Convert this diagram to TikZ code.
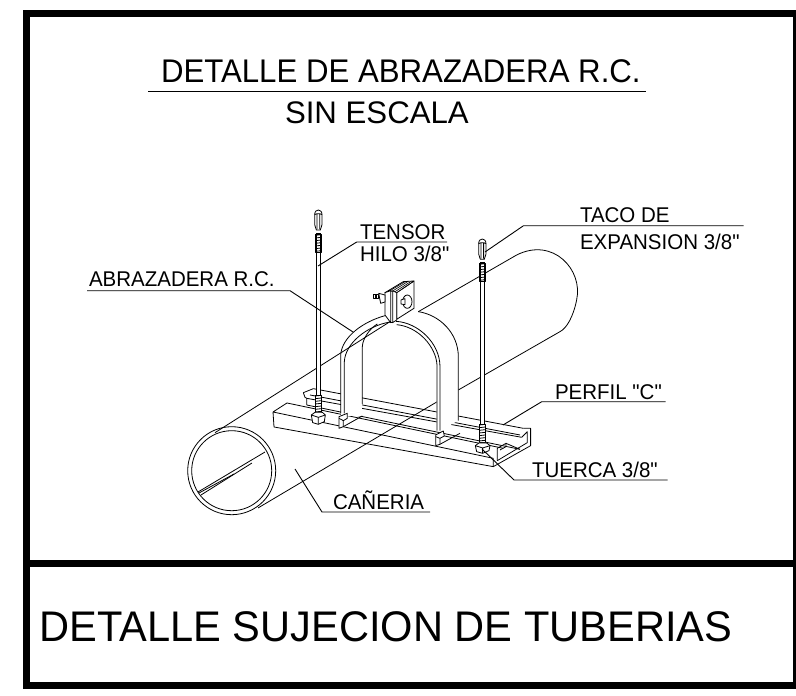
\documentclass[tikz,border=0pt]{standalone}
\usepackage{fontspec}
\setmainfont{Liberation Sans}[Ligatures=TeXOff]
\tikzset{
 txtbase/.style={anchor=base west,inner sep=0pt,outer sep=0pt},
 lbl/.style={txtbase,font=\fontsize{20.5}{20.5}\selectfont},
 ttl/.style={txtbase,font=\fontsize{31.2}{31.2}\selectfont},
 big/.style={txtbase,font=\fontsize{41.6}{42}\selectfont},
 leader/.style={line width=0.9pt},
 mech/.style={line width=0.8pt,line join=round},
 fine/.style={line width=0.6pt},
 frame/.style={line width=7pt,black},
}
\newcommand{\tall}[2]{\scalebox{1}[#1]{#2}}
\begin{document}
\begin{tikzpicture}[x=1pt,y=-1pt]
\useasboundingbox (0,0) rectangle (796,696);
\fill[white] (0,0) rectangle (796,696);
% frame
\draw[frame] (26.5,13.5) rectangle (796.5,685);
\draw[frame] (26.5,563.5) -- (796.5,563.5);
% titles
\node[ttl] (t1) at (161,82.5) {\tall{1.05}{DETALLE DE ABRAZADERA R.C.}};
\coordinate (r1a) at (148,91.7); \coordinate (r1b) at (646,91.7);
\draw[line width=1pt] (r1a) -- (r1b);
\node[ttl] (t2) at (285,123.3) {SIN ESCALA};
\node[big] (t3) at (39.5,641.5) {\tall{1.03}{DETALLE SUJECION DE TUBERIAS}};
% pipe circle
\coordinate (pc) at (231.7,470.7);
\draw[mech] (pc) circle (44);
\draw[mech] (pc) circle (40);
\draw[mech] (198,492) -- (265,452);
\draw[mech] (201,495) -- (252,463);
\draw[mech] (199,493) -- (234,474);
% mechanical part, coordinates in 3x crop units
\begin{scope}[shift={(290,200)},x=0.3333pt,y=-0.3333pt]
% base channel
\draw[mech] (-51,636) -- (610,775) (-48,681) -- (610,800) (-51,636) -- (-48,681)
  (-51,636) -- (-9,609) -- (640,745) (610,775) -- (610,800);
% rails
\draw[mech] (50,615) -- (690,748) (50,595) -- (50,615);
\draw[mech] (40,578) -- (70,566) -- (700,685) (40,578) -- (45,592) -- (50,595) -- (695,712);
\draw[mech] (212,612) -- (212,622) (60,585) -- (690,705);
% right end of channel
\draw[mech] (610,800) -- (722,737) -- (722,685) -- (700,685);
\draw[mech] (622,782) -- (712,728) -- (712,695) -- (695,712);
\draw[mech] (622,782) -- (622,745) -- (648,730) -- (648,740) -- (630,750);
\draw[mech] (690,748) -- (648,730);
% pipe outline
\draw[mech] (-225,698) -- (300,365) (385,335) -- (680,165)
  .. controls (790,110) and (880,210) .. (860,300)
  .. controls (850,350) and (830,385) .. (810,395) -- (505,570);
\draw[mech] (-96,924) -- (442,605);
% strap white masks
\fill[white] (152,470) rectangle (217,648);
\fill[white] (440,500) -- (505,470) -- (505,662) -- (450,692) -- (440,692) -- cycle;
% strap
\draw[mech] (152,640) -- (152,465) .. controls (156,410) and (220,365) .. (285,347);
\draw[mech] (163,640) -- (163,485) .. controls (166,430) and (230,378) .. (300,366);
\draw[mech] (217,612) -- (217,440) .. controls (218,415) and (240,385) .. (262,372);
\draw[mech] (450,692) -- (450,500) .. controls (450,430) and (385,368) .. (318,364);
\draw[mech] (441,692) -- (441,495) .. controls (438,440) and (385,380) .. (320,374);
\draw[mech] (505,662) -- (505,470) .. controls (505,400) and (450,345) .. (385,335);
% feet
\draw[mech,fill=white] (147,650) -- (172,640) -- (172,655) -- (160,662) -- (160,680) -- (147,685) -- cycle;
\draw[mech] (147,655) -- (160,662) (160,680) -- (217,648);
\draw[mech,fill=white] (437,705) -- (460,693) -- (463,708) -- (450,715) -- (450,733) -- (437,737) -- cycle;
\draw[mech] (437,710) -- (450,715) (450,733) -- (510,700);
% top plates
\draw[mech,fill=white] (320,278) -- (372,243) -- (372,325) -- (320,358) -- cycle;
\draw[mech,fill=white] (285,278) -- (340,245) -- (372,243) -- (320,278) -- (302,272) -- cycle;
\draw[fine] (295,275) -- (345,245) (305,275) -- (353,245) (312,277) -- (362,245);
\draw[mech,fill=white] (285,278) -- (302,272) -- (302,368) -- (285,345) -- cycle;
\draw[mech,fill=white] (308,272) -- (320,278) -- (320,360) -- (308,368) -- cycle;
\draw[mech] (302,368) -- (308,368);
% bolts
\draw[mech,fill=white] (352,305) ellipse (14 and 20);
\draw[mech,fill=white] (333,300) -- (345,296) -- (345,314) -- (333,312) -- cycle;
\draw[mech,fill=white] (251,284) rectangle (266,294);
\draw[mech] (255,284) -- (255,294) (260,284) -- (260,294);
\draw[mech,fill=white] (266,280) -- (285,285) -- (285,306) -- (272,310) -- cycle;
% rods
\newcommand{\myrod}[6]{%
 % x left, tip top, tip bottom, rod top, rod bottom, lower thread top
 \fill[white] (#1,#4) rectangle ({#1+14},#5);
 \draw[mech] (#1,#4) -- (#1,#5) ({#1+14},#4) -- ({#1+14},#5) (#1,#4) -- ({#1+14},#4);
 \draw[mech] ({#1-2},{#4+2}) rectangle ({#1+16},{#4+56});
 \foreach \k in {0,8,...,48} \draw[mech] ({#1-2},{#4+6+\k}) -- ({#1+16},{#4+4+\k});
 \draw[mech,fill=white] ({#1-2},{#6}) rectangle ({#1+16},{#6+56});
 \foreach \k in {0,8,...,48} \draw[mech] ({#1-2},{#6+\k+3}) -- ({#1+16},{#6+\k+1});
 \draw[mech,fill=white] ({#1-4},{#2+14}) .. controls ({#1-4},{#2+4}) and ({#1+2},#2) .. ({#1+7},#2)
   .. controls ({#1+12},#2) and ({#1+18},{#2+4}) .. ({#1+18},{#2+14})
   -- ({#1+18},{#3-16}) -- ({#1+13},#3) -- ({#1+1},#3) -- ({#1-4},{#3-16}) -- cycle;
 \draw[mech] ({#1+3},{#2+12}) -- ({#1+3},{#3-2}) ({#1+11},{#2+12}) -- ({#1+11},{#3-2})
   ({#1-4},{#2+14}) .. controls ({#1},{#2+10}) and ({#1+14},{#2+10}) .. ({#1+18},{#2+14});
}
\myrod{78}{30}{90}{100}{640}{585}
\myrod{570}{117}{178}{187}{732}{672}
% nuts
\draw[mech,fill=white] (64,645) -- (75,637) -- (97,637) -- (106,645) -- (103,665) -- (85,673) -- (68,668) -- cycle;
\draw[mech] (64,645) -- (85,652) -- (106,645) (85,652) -- (85,673);
\draw[mech,fill=white] (556,737) -- (567,729) -- (590,729) -- (600,737) -- (597,752) -- (578,760) -- (560,755) -- cycle;
\draw[mech] (556,737) -- (578,744) -- (600,737) (578,744) -- (578,760);
\end{scope}
% labels and leaders
\node[lbl] (tensor) at (360,239) {\tall{1.04}{TENSOR}};
\node[lbl] (hilo) at (360,261.5) {\tall{1.04}{HILO 3/8"}};
\coordinate (tensA) at (318,266); \coordinate (tensB) at (356.7,242); \coordinate (tensC) at (447,242);
\draw[leader] (tensA) -- (tensB) -- (tensC);
\node[lbl] (abr) at (89,286.7) {\tall{1.04}{ABRAZADERA R.C.}};
\coordinate (abA) at (87,290.7); \coordinate (abB) at (290,290.7); \coordinate (abC) at (353,332);
\draw[leader] (abA) -- (abB) -- (abC);
\node[lbl] (taco) at (580,222.7) {\tall{1.04}{TACO DE}};
\node[lbl] (exp) at (580,249) {\tall{1.04}{EXPANSION 3/8"}};
\coordinate (taA) at (485,252); \coordinate (taB) at (523.5,225.7); \coordinate (taC) at (743.5,225.7);
\draw[leader] (taA) -- (taB) -- (taC);
\node[lbl] (perf) at (555,399) {\tall{1.04}{PERFIL "C"}};
\coordinate (peA) at (503,425); \coordinate (peB) at (541.7,401.7); \coordinate (peC) at (665.7,401.7);
\draw[leader] (peA) -- (peB) -- (peC);
\node[lbl] (tuer) at (532,477.7) {\tall{1.04}{TUERCA 3/8"}};
\coordinate (tuA) at (482,449); \coordinate (tuB) at (514,480); \coordinate (tuC) at (667.7,480);
\draw[leader] (tuA) -- (tuB) -- (tuC);
\node[lbl] (can) at (333,509) {\tall{1.04}{CAÑERIA}};
\coordinate (caA) at (295,469); \coordinate (caB) at (322,512); \coordinate (caC) at (430,512);
\draw[leader] (caA) -- (caB) -- (caC);
\end{tikzpicture}
\end{document}
